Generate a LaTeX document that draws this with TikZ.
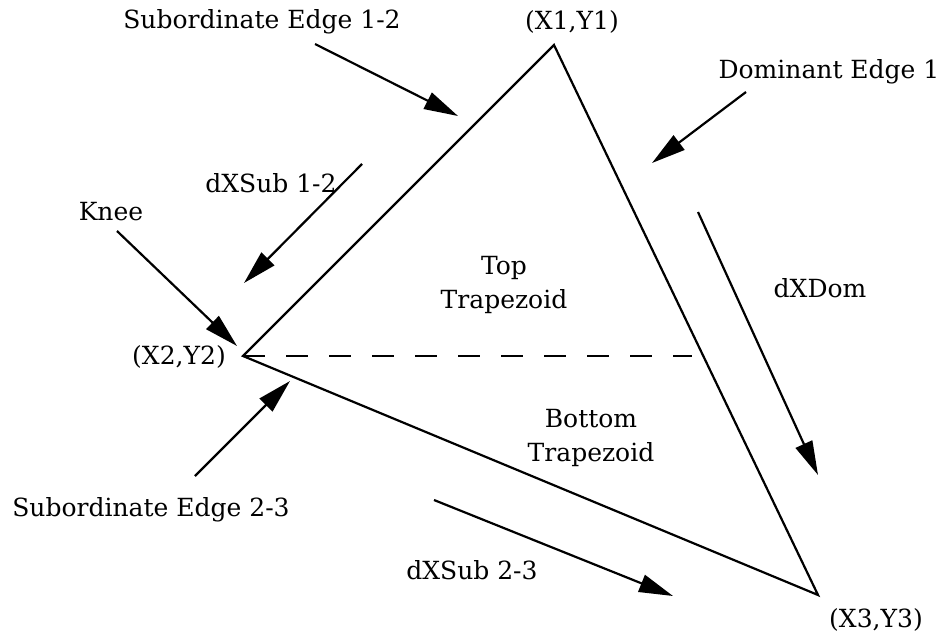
\documentclass[tikz,border=0pt]{standalone}
\usepackage{fontspec}
\setmainfont{DejaVu Serif}
\usetikzlibrary{arrows.meta,positioning}

\begin{document}
\begin{tikzpicture}[
    x=0.5pt, y=-0.5pt,
    side/.style={line width=1.1pt,line join=miter},
    split/.style={line width=1.1pt,dash pattern=on 11pt off 10.5pt},
    pointer/.style={line width=1.1pt,-{Triangle[length=17pt,width=9pt]}},
    lbl/.style={inner sep=0pt,font=\fontsize{12.5}{17}\selectfont,align=center}
    ]
        \useasboundingbox (0,0) rectangle (941,636);
        % triangle corners
        \coordinate (P1) at (554,45);
        \coordinate (P2) at (243,356);
        \coordinate (P3) at (818,595);
        \coordinate (cut) at (692,356);
        \draw [side] (P2) -- (P1) -- (P3) -- cycle;
        \draw [split] (P2) -- (cut);

        % labels
        \node [lbl](subA) at (262,22) {Subordinate Edge 1-2};
        \node [lbl](c1) at (572,22) {(X1,Y1)};
        \node [lbl](dom) at (829,72) {Dominant Edge 1};
        \node [lbl](dxsubA) at (271,183) {dXSub 1-2};
        \node [lbl](knee) at (111,212) {Knee};
        \node [lbl](top) at (504,285) {Top\\Trapezoid};
        \node [lbl](dxdom) at (820,288) {dXDom};
        \node [lbl](c2) at (179,357) {(X2,Y2)};
        \node [lbl](bottom) at (591,438) {Bottom\\Trapezoid};
        \node [lbl](subB) at (151,510) {Subordinate Edge 2-3};
        \node [lbl](dxsubB) at (472,570) {dXSub 2-3};
        \node [lbl](c3) at (876,620) {(X3,Y3)};

        % pointer ends
        \coordinate (subAs) at (315,44);
        \coordinate (subAt) at (458,116);
        \coordinate (doms) at (746,92);
        \coordinate (domt) at (652,163);
        \coordinate (dxsubAs) at (362,164);
        \coordinate (dxsubAt) at (244,283);
        \coordinate (knees) at (117,231);
        \coordinate (kneet) at (237,346);
        \coordinate (subBs) at (195,476);
        \coordinate (subBt) at (290,381);
        \coordinate (dxsubBs) at (434,500);
        \coordinate (dxsubBt) at (673,596);
        \coordinate (dxdoms) at (698,212);
        \coordinate (dxdomt) at (818,475);

        \draw [pointer] (subAs) -- (subAt);
        \draw [pointer] (doms) -- (domt);
        \draw [pointer] (dxsubAs) -- (dxsubAt);
        \draw [pointer] (knees) -- (kneet);
        \draw [pointer] (subBs) -- (subBt);
        \draw [pointer] (dxsubBs) -- (dxsubBt);
        \draw [pointer] (dxdoms) -- (dxdomt);
\end{tikzpicture}
\end{document}
